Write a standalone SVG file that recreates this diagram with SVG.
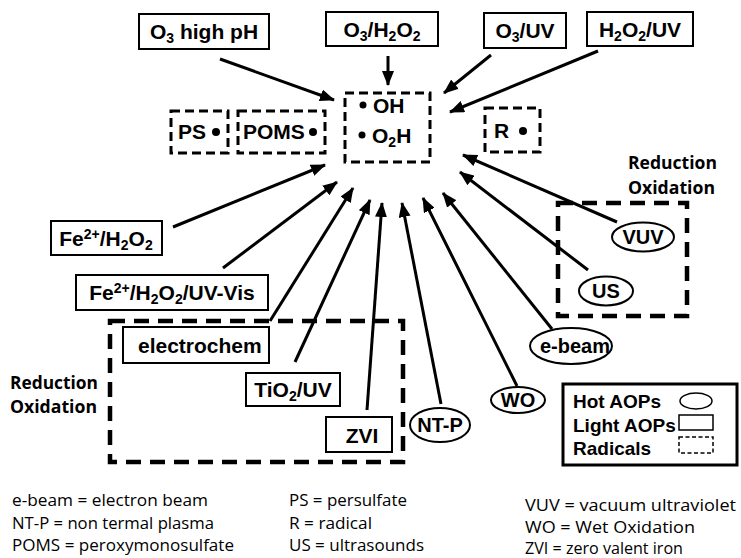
<svg xmlns="http://www.w3.org/2000/svg" width="741" height="558" viewBox="0 0 741 558">
<defs>
<marker id="ah" markerWidth="15" markerHeight="12" refX="14" refY="6" orient="auto" markerUnits="userSpaceOnUse">
<path d="M0,0 L15,6 L0,12 Z" fill="#000"/>
</marker>
<style>
.box{fill:#fff;stroke:#000;stroke-width:2}
.ell{fill:#fff;stroke:#000;stroke-width:2}
.rad{fill:none;stroke:#000;stroke-width:3;stroke-dasharray:9 5}
.big{fill:none;stroke:#000;stroke-width:4.5;stroke-dasharray:15 9}
.lbl{font-family:"Liberation Sans",Arial,sans-serif;font-weight:bold;font-size:21px;fill:#000}
.el{font-family:"Liberation Sans",Arial,sans-serif;font-weight:bold;font-size:20px;fill:#000;text-anchor:middle}
.lg{font-family:"Liberation Sans",Arial,sans-serif;font-weight:bold;font-size:19px;fill:#000}
.mid{text-anchor:middle}
.cal{font-family:"Open Sans",sans-serif;font-size:17px;fill:#000}
.red{font-family:"Open Sans",sans-serif;font-weight:bold;font-size:17px;fill:#000}
.arr{stroke:#000;stroke-width:3;fill:none;marker-end:url(#ah)}
</style>
</defs>
<rect width="741" height="558" fill="#fff"/>

<g id="zone-left"><rect class="big" x="110" y="321" width="293" height="141"/></g>
<g id="zone-right"><rect class="big" x="558" y="203" width="129" height="113"/></g>

<g id="connectors">
<line class="arr" x1="220" y1="59" x2="334" y2="100"/>
<line class="arr" x1="388" y1="56" x2="388" y2="85"/>
<line class="arr" x1="491" y1="55" x2="444" y2="93"/>
<line class="arr" x1="598" y1="51" x2="450" y2="112"/>
<line class="arr" x1="173" y1="227" x2="325" y2="165"/>
<line class="arr" x1="223" y1="268" x2="337" y2="182"/>
<line class="arr" x1="270" y1="321" x2="353" y2="188"/>
<line class="arr" x1="295" y1="362" x2="370" y2="200"/>
<line class="arr" x1="367" y1="410" x2="382" y2="203"/>
<line class="arr" x1="441" y1="404" x2="402" y2="203"/>
<line class="arr" x1="517" y1="386" x2="423" y2="198"/>
<line class="arr" x1="552" y1="329" x2="443" y2="193"/>
<line class="arr" x1="588" y1="270" x2="460" y2="172"/>
<line class="arr" x1="617" y1="222" x2="463" y2="155"/>
</g>

<g id="n-o3-high-ph"><rect class="box" x="139" y="14" width="130" height="35"/>
<text class="lbl mid" x="204" y="39">O<tspan font-size="14" dy="4">3</tspan><tspan dy="-4"> high pH</tspan></text></g>
<g id="n-o3-h2o2"><rect class="box" x="326" y="12" width="112" height="34"/>
<text class="lbl mid" x="382" y="37">O<tspan font-size="14" dy="4">3</tspan><tspan dy="-4">/H</tspan><tspan font-size="14" dy="4">2</tspan><tspan dy="-4">O</tspan><tspan font-size="14" dy="4">2</tspan></text></g>
<g id="n-o3-uv"><rect class="box" x="484" y="13" width="82" height="35"/>
<text class="lbl mid" x="525" y="38">O<tspan font-size="14" dy="4">3</tspan><tspan dy="-4">/UV</tspan></text></g>
<g id="n-h2o2-uv"><rect class="box" x="587" y="12" width="106" height="34"/>
<text class="lbl mid" x="640" y="37">H<tspan font-size="14" dy="4">2</tspan><tspan dy="-4">O</tspan><tspan font-size="14" dy="4">2</tspan><tspan dy="-4">/UV</tspan></text></g>

<g id="n-oh"><rect class="rad" x="345" y="93" width="85" height="69"/>
<circle cx="363" cy="105" r="3.5"/><text class="lbl" x="373" y="113">OH</text>
<circle cx="362" cy="135" r="3.5"/><text class="lbl" x="372" y="143">O<tspan font-size="14" dy="4">2</tspan><tspan dy="-4">H</tspan></text></g>

<g id="n-ps"><rect class="rad" x="171" y="111" width="57" height="42"/>
<text class="lbl" x="178" y="139">PS</text><circle cx="216" cy="132" r="4"/></g>
<g id="n-poms"><rect class="rad" x="238" y="111" width="87" height="42"/>
<text class="lbl" x="243" y="139">POMS</text><circle cx="313" cy="132" r="4"/></g>
<g id="n-r"><rect class="rad" x="485" y="108" width="55" height="44"/>
<text class="lbl" x="494" y="138">R</text><circle cx="523" cy="131" r="4"/></g>

<g id="n-fe-h2o2"><rect class="box" x="51" y="221" width="111" height="34"/>
<text class="lbl mid" x="106" y="246">Fe<tspan font-size="14" dy="-7">2+</tspan><tspan dy="7">/H</tspan><tspan font-size="14" dy="4">2</tspan><tspan dy="-4">O</tspan><tspan font-size="14" dy="4">2</tspan></text></g>
<g id="n-fe-uvvis"><rect class="box" x="76" y="275" width="192" height="35"/>
<text class="lbl mid" x="172" y="300">Fe<tspan font-size="14" dy="-7">2+</tspan><tspan dy="7">/H</tspan><tspan font-size="14" dy="4">2</tspan><tspan dy="-4">O</tspan><tspan font-size="14" dy="4">2</tspan><tspan dy="-4">/UV-Vis</tspan></text></g>
<g id="n-electrochem"><rect class="box" x="123" y="327" width="146" height="36"/>
<text class="lbl" x="138" y="353">electrochem</text></g>
<g id="n-tio2"><rect class="box" x="246" y="373" width="94" height="33"/>
<text class="lbl mid" x="293" y="397">TiO<tspan font-size="14" dy="4">2</tspan><tspan dy="-4">/UV</tspan></text></g>
<g id="n-zvi"><rect class="box" x="326" y="417" width="66" height="35"/>
<text class="lbl mid" x="362" y="443">ZVI</text></g>

<g id="n-vuv"><ellipse class="ell" cx="643" cy="237" rx="31" ry="14.5"/><text class="el" x="643" y="244">VUV</text></g>
<g id="n-us"><ellipse class="ell" cx="606" cy="291" rx="27" ry="14.5"/><text class="el" x="606" y="298">US</text></g>
<g id="n-ebeam"><ellipse class="ell" cx="571" cy="346" rx="41" ry="18"/><text class="el" x="575" y="353">e-beam</text></g>
<g id="n-wo"><ellipse class="ell" cx="518" cy="400" rx="27" ry="13"/><text class="el" x="518" y="407">WO</text></g>
<g id="n-ntp"><ellipse class="ell" cx="440" cy="425" rx="30" ry="17"/><text class="el" x="440" y="432">NT-P</text></g>

<g id="redox-right"><text class="red" x="628" y="169" textLength="89" lengthAdjust="spacingAndGlyphs">Reduction</text>
<text class="red" x="628" y="194" textLength="87" lengthAdjust="spacingAndGlyphs">Oxidation</text></g>
<g id="redox-left"><text class="red" x="10" y="389" textLength="88" lengthAdjust="spacingAndGlyphs">Reduction</text>
<text class="red" x="10" y="413" textLength="87" lengthAdjust="spacingAndGlyphs">Oxidation</text></g>

<g id="legend"><rect x="563" y="384" width="174" height="81" fill="#fff" stroke="#000" stroke-width="3"/>
<text class="lg" x="573" y="408">Hot AOPs</text>
<text class="lg" x="573" y="432">Light AOPs</text>
<text class="lg" x="573" y="455">Radicals</text>
<ellipse cx="696" cy="401" rx="16" ry="8" fill="#fff" stroke="#000" stroke-width="1.5"/>
<rect x="679" y="415" width="34" height="15" fill="#fff" stroke="#000" stroke-width="1.5"/>
<rect x="679" y="437" width="34" height="16" fill="none" stroke="#000" stroke-width="1.5" stroke-dasharray="4 2.5"/></g>

<g id="abbreviations">
<text class="cal" x="12" y="506" textLength="196" lengthAdjust="spacingAndGlyphs">e-beam = electron beam</text>
<text class="cal" x="12" y="529" textLength="202" lengthAdjust="spacingAndGlyphs">NT-P = non termal plasma</text>
<text class="cal" x="12" y="551" textLength="222" lengthAdjust="spacingAndGlyphs">POMS = peroxymonosulfate</text>
<text class="cal" x="289" y="506" textLength="118" lengthAdjust="spacingAndGlyphs">PS = persulfate</text>
<text class="cal" x="289" y="529" textLength="83" lengthAdjust="spacingAndGlyphs">R = radical</text>
<text class="cal" x="289" y="551" textLength="135" lengthAdjust="spacingAndGlyphs">US = ultrasounds</text>
<text class="cal" x="525" y="511" textLength="211" lengthAdjust="spacingAndGlyphs">VUV = vacuum ultraviolet</text>
<text class="cal" x="525" y="533" textLength="170" lengthAdjust="spacingAndGlyphs">WO = Wet Oxidation</text>
<text class="cal" x="525" y="554" textLength="158" lengthAdjust="spacingAndGlyphs">ZVI = zero valent iron</text>
</g>
</svg>
